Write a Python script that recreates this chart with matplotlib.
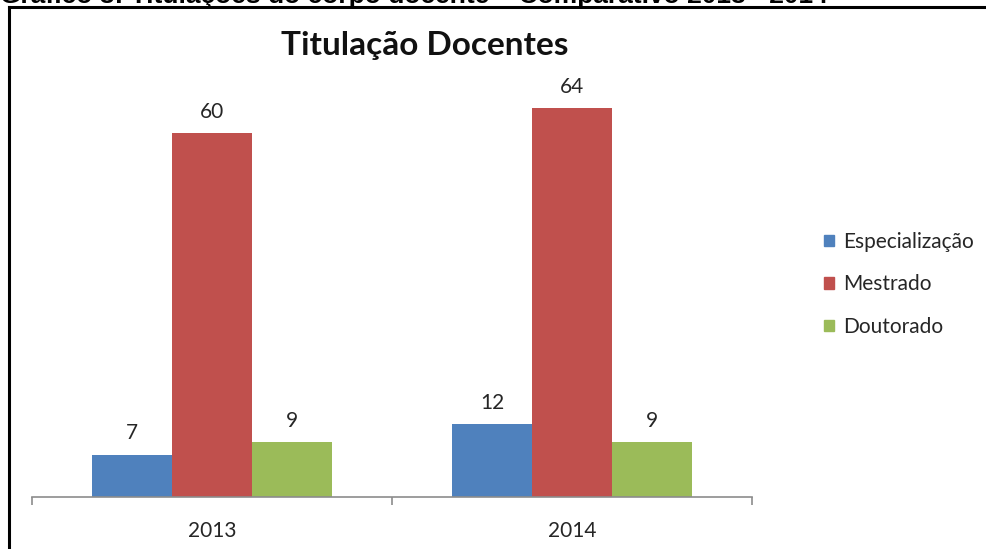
import matplotlib
matplotlib.use("Agg")
import matplotlib.pyplot as plt
import numpy as np
from matplotlib.lines import Line2D

W, H = 987, 549

years = ["2013", "2014"]
series_names = ["Especialização", "Mestrado", "Doutorado"]
especializacao = [7, 12]
mestrado = [60, 64]
doutorado = [9, 9]
series_colors = ["#4F81BD", "#C0504D", "#9BBB59"]

caption = "Gráfico 3: Titulações do corpo docente – Comparativo 2013 - 2014"
title = "Titulação Docentes"

plt.rcParams["font.family"] = ["Lato", "DejaVu Sans"]

fig = plt.figure(figsize=(W / 100, H / 100), dpi=100)


def fx(px):
    return px / W


def fy(py):
    return 1 - py / H


# page frame and the caption above it (cut by the top edge, as in the scan)
fig.add_artist(Line2D([fx(9), fx(9)], [fy(7), 0], color="black", lw=2.2, transform=fig.transFigure))
fig.add_artist(Line2D([fx(9), 1], [fy(7), fy(7)], color="black", lw=2.2, transform=fig.transFigure))
fig.text(fx(0), fy(3), caption, ha="left", va="baseline", fontsize=19,
         fontweight="bold", family=["Liberation Sans", "DejaVu Sans"])

ax = fig.add_axes([fx(32), fy(497), fx(752) - fx(32), fy(72) - fy(497)])

x = np.arange(len(years))
bar_w = 2 / 9
values = [especializacao, mestrado, doutorado]
for i, (name, vals, col) in enumerate(zip(series_names, values, series_colors)):
    bars = ax.bar(x + (i - 1) * bar_w, vals, width=bar_w, color=col, label=name,
                  edgecolor="none")
    for b, v in zip(bars, vals):
        ax.annotate(str(v), (b.get_x() + b.get_width() / 2, v), xytext=(0, 8),
                    textcoords="offset points", ha="center", va="bottom",
                    fontsize=15, color="#262626")

ax.set_xlim(-0.5, 1.5)
ax.set_ylim(0, 70)
ax.set_yticks([])
for s in ["top", "right", "left"]:
    ax.spines[s].set_visible(False)
ax.spines["bottom"].set_color("#8C8C8C")
ax.spines["bottom"].set_linewidth(1.2)
ax.set_xticks([-0.5, 0.5, 1.5])
ax.set_xticklabels([])
ax.set_xticks(x, minor=True)
ax.set_xticklabels(years, minor=True, fontsize=15, color="#262626")
ax.tick_params(axis="x", which="major", direction="out", length=6, color="#8C8C8C", width=1.2)
ax.tick_params(axis="x", which="minor", length=0, pad=17)

fig.text(fx(425), fy(46), title, ha="center", va="center", fontsize=24,
         fontweight="bold", color="#111111")

handles = [plt.Rectangle((0, 0), 1, 1, color=c) for c in series_colors]
fig.legend(handles, series_names, loc="upper left", bbox_to_anchor=(fx(824), fy(232)),
           frameon=False, fontsize=15, handlelength=0.46, handleheight=0.46,
           handletextpad=0.48, labelspacing=1.08, borderpad=0, borderaxespad=0,
           labelcolor="#262626")

fig.savefig("out.png", dpi=100)
